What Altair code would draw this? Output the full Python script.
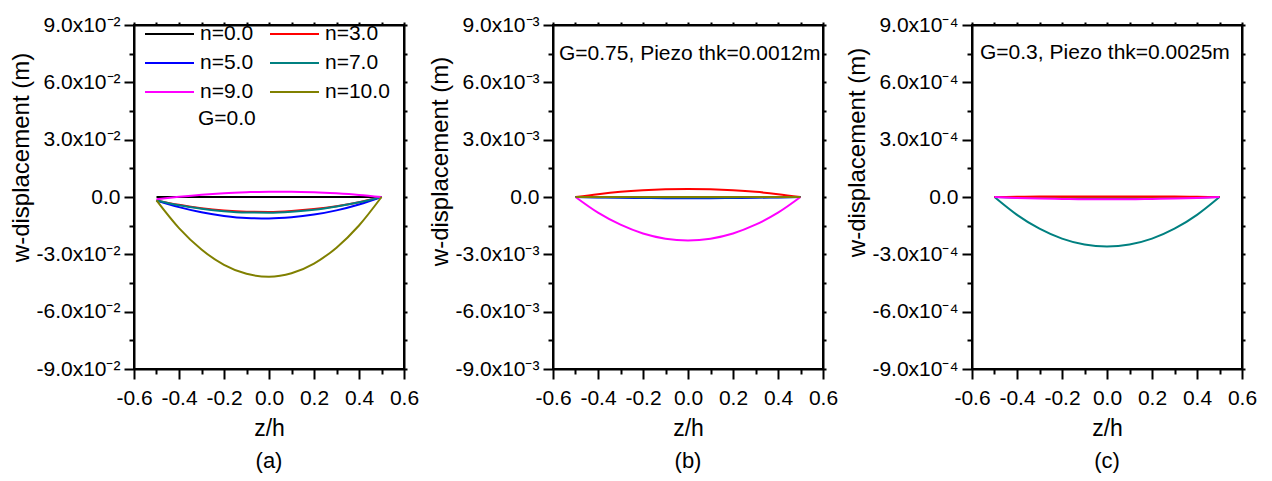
import altair as alt
import pandas as pd

FONT = "Liberation Sans"

z = [-0.5, -0.4, -0.3, -0.2, -0.1, 0.0, 0.1, 0.2, 0.3, 0.4, 0.5]
series = ["n=0.0", "n=3.0", "n=5.0", "n=7.0", "n=9.0", "n=10.0"]
colors = ["#000000", "#FF0000", "#0000FF", "#008080", "#FF00FF", "#808000"]
# legend is laid out column by column, so list entries so that rows read n=0/n=3, n=5/n=7, n=9/n=10
legend_order = [0, 2, 4, 1, 3, 5]

# panel (a): G=0.0
a_n0 = [0.0, 0.0, 0.0, 0.0, 0.0, 0.0, 0.0, 0.0, 0.0, 0.0, 0.0]
a_n3 = [-0.0018, -0.0041, -0.0059, -0.0071, -0.0077, -0.0078, -0.0073, -0.0063, -0.0048, -0.0027, 0.0]
a_n5 = [-0.0018, -0.0053, -0.0080, -0.0099, -0.0110, -0.0112, -0.0106, -0.0092, -0.0070, -0.0039, 0.0]
a_n7 = [-0.0018, -0.0043, -0.0061, -0.0074, -0.0081, -0.0082, -0.0077, -0.0067, -0.0050, -0.0028, 0.0]
a_n9 = [-0.0012, 0.0001, 0.0012, 0.0020, 0.0025, 0.0028, 0.0028, 0.0025, 0.0019, 0.0011, 0.0]
a_n10 = [-0.0018, -0.0163, -0.0275, -0.0355, -0.0402, -0.0417, -0.0399, -0.0348, -0.0265, -0.0149, 0.0]

# panel (b): G=0.75, piezo 0.0012 m
b_n0 = [0.0, 0.0, 0.0, 0.0, 0.0, 0.0, 0.0, 0.0, 0.0, 0.0, 0.0]
b_n3 = [0.0, 0.00015, 0.00027, 0.00035, 0.00040, 0.00042, 0.00040, 0.00035, 0.00027, 0.00015, 0.0]
b_n5 = [0.0, -0.00002, -0.00004, -0.00005, -0.00006, -0.00006, -0.00006, -0.00005, -0.00004, -0.00002, 0.0]
b_n7 = [0.0, -0.00001, -0.00001, -0.00002, -0.00002, -0.00002, -0.00002, -0.00002, -0.00001, -0.00001, 0.0]
b_n9 = [0.0, -0.00082, -0.00145, -0.00191, -0.00218, -0.00227, -0.00218, -0.00191, -0.00145, -0.00082, 0.0]
b_n10 = [0.0, 0.0, 0.0, 0.0, 0.0, 0.0, 0.0, 0.0, 0.0, 0.0, 0.0]

# panel (c): G=0.3, piezo 0.0025 m
c_n0 = [0.0, 0.0, 0.0, 0.0, 0.0, 0.0, 0.0, 0.0, 0.0, 0.0, 0.0]
c_n3 = [0.0, 0.000001, 0.000002, 0.000002, 0.000002, 0.000002, 0.000002, 0.000002, 0.000002, 0.000001, 0.0]
c_n5 = [0.0, -0.000002, -0.000003, -0.000004, -0.000005, -0.000005, -0.000005, -0.000004, -0.000003, -0.000002, 0.0]
c_n7 = [0.0, -0.0000932, -0.000166, -0.000218, -0.000249, -0.000259, -0.000249, -0.000218, -0.000166, -0.0000932, 0.0]
c_n9 = [0.0, -0.000005, -0.000008, -0.000010, -0.000012, -0.000012, -0.000012, -0.000010, -0.000008, -0.000005, 0.0]
c_n10 = [0.0, -0.000001, -0.000001, -0.000002, -0.000002, -0.000002, -0.000002, -0.000002, -0.000001, -0.000001, 0.0]

x_major = [-0.6, -0.4, -0.2, 0.0, 0.2, 0.4, 0.6]
x_minor = [-0.5, -0.3, -0.1, 0.1, 0.3, 0.5]
x_all = [-0.6, -0.5, -0.4, -0.3, -0.2, -0.1, 0.0, 0.1, 0.2, 0.3, 0.4, 0.5, 0.6]
y_major_units = [-9, -6, -3, 0, 3, 6, 9]
y_minor_units = [-7.5, -4.5, -1.5, 1.5, 4.5, 7.5]
y_all_units = [-9, -7.5, -6, -4.5, -3, -1.5, 0, 1.5, 3, 4.5, 6, 7.5, 9]

SUP = {2: "\u207b\u00b2", 3: "\u207b\u00b3", 4: "\u207b\u2074"}


def make_df(named, order):
    rows = []
    for name in order:
        vals = named[name]
        for zi, wi in zip(z, vals):
            rows.append({"series": name, "z": zi, "w": wi})
    return pd.DataFrame(rows)


def panel(df, exp, label, legend, annots, title_y):
    f = 10.0 ** (-exp)
    mult = 10 ** exp
    xs = alt.Scale(domain=[-0.6, 0.6], nice=False, zero=False)
    ys = alt.Scale(domain=[-9 * f, 9 * f], nice=False, zero=False)
    ylab = (f"abs(datum.value) < 1e-12 ? '0.0' : (datum.value < 0 ? '-' : '') + "
            f"format(abs(datum.value) * {mult}, '.1f') + 'x10{SUP[exp]}'")
    xlab = "(datum.value < -1e-9 ? '-' : '') + format(abs(datum.value), '.1f')"
    base = alt.Chart(df)
    lines = base.mark_line(strokeWidth=2, interpolate="monotone").encode(
        x=alt.X("z:Q", scale=xs, axis=alt.Axis(
            orient="bottom", values=x_major, tickSize=10, labelExpr=xlab,
            labelPadding=8, title="z/h", titlePadding=9, titleFontSize=23)),
        y=alt.Y("w:Q", scale=ys, axis=alt.Axis(
            orient="left", values=[v * f for v in y_major_units], tickSize=10,
            labelExpr=ylab, labelPadding=4, title="w-displacement (m)",
            titlePadding=2, titleFontSize=24, titleY=title_y)),
        color=alt.Color("series:N",
                        scale=alt.Scale(domain=[series[i] for i in legend_order],
                                        range=[colors[i] for i in legend_order]),
                        legend=legend),
    )
    minor = base.mark_point(opacity=0).encode(
        x=alt.X("z:Q", scale=xs, axis=alt.Axis(
            orient="bottom", values=x_minor, tickSize=5, labels=False,
            domain=False), title=None),
        y=alt.Y("w:Q", scale=ys, axis=alt.Axis(
            orient="left", values=[v * f for v in y_minor_units], tickSize=5,
            labels=False, domain=False), title=None),
    )
    mirror = base.mark_point(opacity=0).encode(
        x=alt.X("z:Q", scale=xs, axis=alt.Axis(
            orient="top", values=x_all, tickSize=3, labels=False), title=None),
        y=alt.Y("w:Q", scale=ys, axis=alt.Axis(
            orient="right", values=[v * f for v in y_all_units], tickSize=3,
            labels=False), title=None),
    )
    layers = [lines, minor, mirror]
    for txt, px, py in annots:
        layers.append(
            alt.Chart(pd.DataFrame({"t": [txt]})).mark_text(
                align="left", baseline="middle", font=FONT, fontSize=21,
                color="black").encode(text="t:N", x=alt.value(px), y=alt.value(py))
        )
    return alt.layer(*layers).resolve_axis(x="independent", y="independent").properties(
        width=270, height=344,
        title=alt.TitleParams(label, orient="bottom", frame="group", fontSize=22,
                              fontWeight="normal", font=FONT, color="black", offset=11),
    )


order_all = ["n=0.0", "n=3.0", "n=5.0", "n=7.0", "n=9.0", "n=10.0"]
dfa = make_df({"n=0.0": a_n0, "n=3.0": a_n3, "n=5.0": a_n5, "n=7.0": a_n7,
               "n=9.0": a_n9, "n=10.0": a_n10}, order_all)
dfb = make_df({"n=0.0": b_n0, "n=3.0": b_n3, "n=5.0": b_n5, "n=7.0": b_n7,
               "n=9.0": b_n9, "n=10.0": b_n10}, order_all)
dfc = make_df({"n=0.0": c_n0, "n=3.0": c_n3, "n=5.0": c_n5, "n=7.0": c_n7,
               "n=9.0": c_n9, "n=10.0": c_n10},
              ["n=0.0", "n=5.0", "n=10.0", "n=7.0", "n=3.0", "n=9.0"])

leg = alt.Legend(orient="none", legendX=10, legendY=-3, columns=2,
                 symbolType="stroke", symbolSize=2401, symbolStrokeWidth=2,
                 labelFont=FONT, labelFontSize=21, labelColor="black",
                 labelOffset=5, columnPadding=15, rowPadding=5, clipHeight=24,
                 title=None, padding=0)

pa = panel(dfa, 2, "(a)", leg, [("G=0.0", 64, 94)], 132)
pb = panel(dfb, 3, "(b)", None, [("G=0.75, Piezo thk=0.0012m", 6, 29)], 136)
pc = panel(dfc, 4, "(c)", None, [("G=0.3, Piezo thk=0.0025m", 8, 28)], 127)

chart = alt.hconcat(pa, pb, pc, spacing=149, bounds="flush").resolve_scale(
    color="independent").resolve_legend(color="independent").properties(
    padding={"left": 0, "top": 5, "right": 5, "bottom": 0}
).configure_view(stroke="black", strokeWidth=2).configure_axis(
    grid=False, labelFont=FONT, titleFont=FONT, labelFontSize=21,
    titleFontSize=24, titleFontWeight="normal", labelColor="black",
    titleColor="black", domainColor="black", domainWidth=2, tickColor="black",
    tickWidth=2, labelFlush=False, labelOverlap=False,
)

chart.save("out.html", embed_options={"renderer": "svg", "actions": False})
